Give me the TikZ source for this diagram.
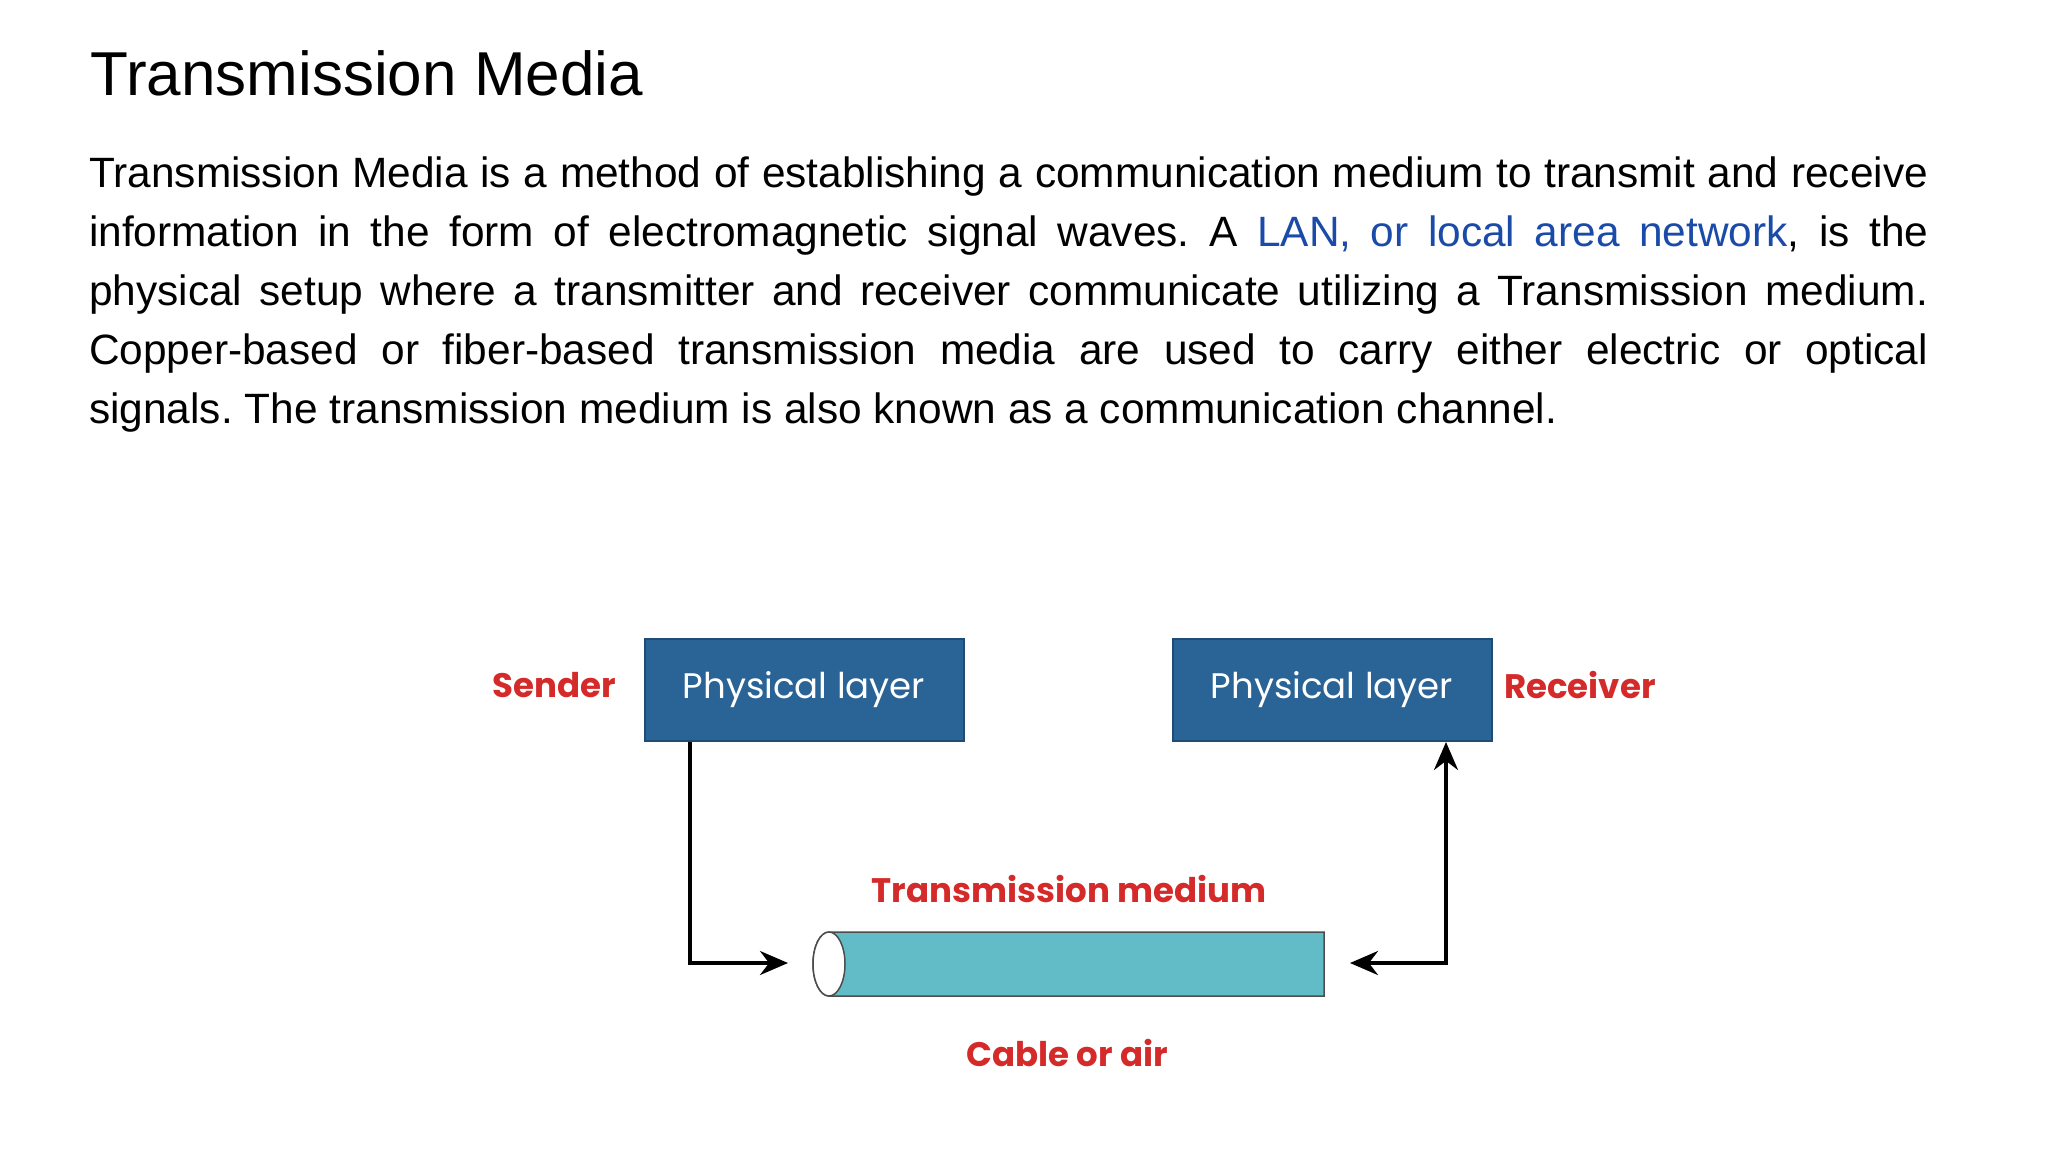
\documentclass[tikz,border=0pt]{standalone}
\usetikzlibrary{arrows.meta}
\usepackage{fontspec}
\setmainfont{Liberation Sans}
\newfontfamily\pop{Poppins}
\definecolor{boxblue}{HTML}{2A6496}
\definecolor{boxedge}{HTML}{1E4C74}
\definecolor{lblred}{HTML}{D42A2A}
\definecolor{cyl}{HTML}{62BCC8}
\definecolor{linkblue}{HTML}{1A4BA8}
\begin{document}
\frenchspacing
\begin{tikzpicture}[x=1pt,y=-1pt,
  box/.style={draw=boxedge,line width=2pt,fill=boxblue,minimum width=319pt,minimum height=102pt,text=white,font=\pop\fontsize{35.5}{40}\selectfont},
  lbl/.style={text=lblred,font=\pop\bfseries\fontsize{34}{40}\selectfont},
  arr/.style={line width=3.5pt,-{Stealth[length=28pt,width=24pt]}}]
\useasboundingbox (0,0) rectangle (2048,1152);
\node[anchor=base west,font=\fontsize{62}{70}\selectfont] (title) at (87,95) {Transmission Media};
\node[anchor=north west,text width=1839pt,align=justify,inner sep=0pt,font=\fontsize{42.4}{58.8}\selectfont] (para) at (89,157) {Transmission Media is a method of establishing a communication medium to transmit and receive\linebreak information in the form of electromagnetic signal waves. A \textcolor{linkblue}{LAN, or local area network}, is the\linebreak physical setup where a transmitter and receiver communicate utilizing a Transmission medium.\linebreak Copper-based or fiber-based transmission media are used to carry either electric or optical\linebreak signals. The transmission medium is also known as a communication channel.};
\node[box] (pl1) at (804,690) {Physical layer};
\node[box] (pl2) at (1332,690) {Physical layer};
\node[lbl] (snd) at (554,685) {Sender};
\node[lbl] (rcv) at (1580,685) {Receiver};
\node[lbl] (tm) at (1069,889) {Transmission medium};
\node[lbl] (cab) at (1067,1053) {Cable or air};
\fill[cyl,draw=black!70,line width=1.5pt] (829,932) -- (1324,932) -- (1324,996) -- (829,996) arc (90:270:16 and 32) -- cycle;
\draw[fill=white,draw=black!70,line width=1.5pt] (829,964) ellipse (16 and 32);
\coordinate (c1) at (690,963);
\coordinate (e1) at (788,963);
\coordinate (s2) at (1350,963);
\coordinate (c2) at (1446,963);
\draw[arr] (pl1.south -| c1) -- (c1) -- (e1);
\draw[arr,{Stealth[length=28pt,width=24pt]}-{Stealth[length=28pt,width=24pt]}] (s2) -- (c2) -- (pl2.south -| c2);
\end{tikzpicture}
\end{document}
